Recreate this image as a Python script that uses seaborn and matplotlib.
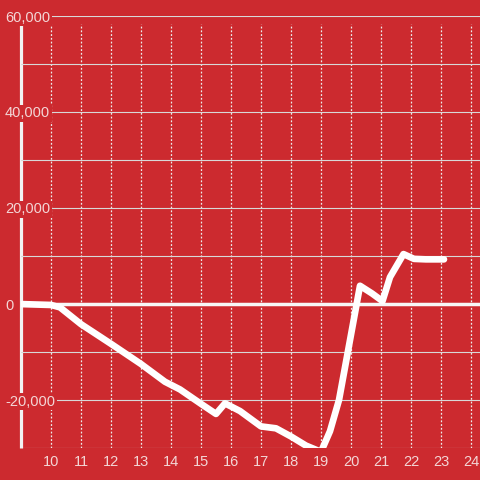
import matplotlib
matplotlib.use("Agg")
import pandas as pd
import matplotlib.pyplot as plt
import seaborn as sns
from matplotlib.ticker import FuncFormatter

# hour of day vs cumulative value
hours = [8.9, 10.0, 10.3, 11.0, 12.0, 13.0, 13.8, 14.3, 15.0, 15.5, 15.8,
         16.3, 17.0, 17.5, 18.0, 18.5, 19.0, 19.3, 19.6, 19.9, 20.3, 20.7,
         21.05, 21.3, 21.75, 22.1, 22.5, 23.1]
values = [0, -200, -700, -4200, -8300, -12500, -16200, -17800, -20800,
          -22900, -20700, -22300, -25500, -25900, -27600, -29500, -30800,
          -26500, -20000, -9800, 3800, 2200, 600, 5600, 10400, 9400, 9300,
          9300]

x_ticks = list(range(10, 25))
y_ticks = list(range(-30000, 60001, 10000))

bg = '#cc2a2f'
sns.set_style('dark', {'axes.facecolor': bg, 'figure.facecolor': bg})
plt.rcParams['font.family'] = ['Liberation Sans', 'DejaVu Sans']

fig = plt.figure(figsize=(4.8, 4.8), dpi=100)
ax = fig.add_axes([21/480, 32/480, 459/480, 432/480])

df = pd.DataFrame({'hour': hours, 'value': values})
sns.lineplot(data=df, x='hour', y='value', color='white', lw=4.8,
             sort=False, ax=ax, zorder=3)

ax.set_xlim(9, 24.3)
ax.set_ylim(-30000, 60000)
ax.set_xticks(x_ticks)
ax.set_yticks(y_ticks)
ax.yaxis.set_major_formatter(
    FuncFormatter(lambda v, p: f"{int(v):,}" if v % 20000 == 0 else ''))
ax.set_xlabel('')
ax.set_ylabel('')

for s in ax.spines.values():
    s.set_visible(False)

ax.set_axisbelow(True)
ax.grid(axis='y', color='#d8d8d8', lw=0.8)
ax.grid(axis='x', visible=False)

# dashed verticals and left axis line
ax.vlines(x_ticks, -30000, 58300, colors='#ececec',
          linestyles=(0, (1.5, 1.5)), lw=0.9, zorder=0.4)
ax.vlines([9], -30000, 58300, colors='#f2f2f2', lw=2.3, zorder=0.4,
          clip_on=False)
ax.axhline(0, color='#f7f7f7', lw=2.5, zorder=0.6)

ax.tick_params(axis='both', length=0, labelsize=10.5, labelcolor='#f3d6d6')
ax.tick_params(axis='x', pad=5)
ax.tick_params(axis='y', pad=11.5)
for tl in ax.get_yticklabels():
    tl.set_ha('left')
    tl.set_bbox(dict(boxstyle='square,pad=0.12', fc=bg, ec='none'))

fig.savefig('out.png', dpi=100, facecolor=bg)
